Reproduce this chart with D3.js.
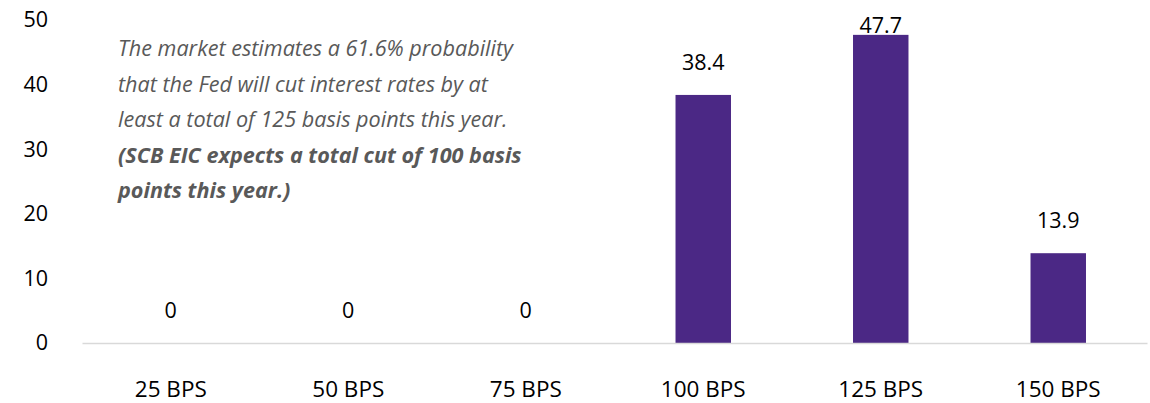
<!DOCTYPE html>
<html>
<head>
<meta charset="utf-8">
<script src="https://cdn.jsdelivr.net/npm/d3@7"></script>
<style>
  html, body { margin: 0; padding: 0; background: #ffffff; }
  svg { display: block; }
</style>
</head>
<body>
<div id="chart"></div>
<script>
// Probability (%) of total Fed rate cuts this year
const categories = ["25 BPS", "50 BPS", "75 BPS", "100 BPS", "125 BPS", "150 BPS"];
const probabilities = [0, 0, 0, 38.4, 47.7, 13.9];
const yTicks = [0, 10, 20, 30, 40, 50];
const noteLines = [
  { text: "The market estimates a 61.6% probability", bold: false },
  { text: "that the Fed will cut interest rates by at", bold: false },
  { text: "least a total of 125 basis points this year.", bold: false },
  { text: "(SCB EIC expects a total cut of 100 basis", bold: true },
  { text: "points this year.)", bold: true }
];

const width = 1150, height = 403;
const font = "'Open Sans', 'Noto Sans', sans-serif";

const svg = d3.select("#chart").append("svg")
  .attr("width", width)
  .attr("height", height);

const x = d3.scaleBand()
  .domain(categories)
  .range([82, 1147])
  .paddingInner(0.6875)
  .paddingOuter(0.34375);

const y = d3.scaleLinear()
  .domain([0, 50])
  .range([343, 20]);

// Y axis labels
const yAxis = d3.axisLeft(y).tickValues(yTicks).tickSize(0).tickPadding(0);
const gy = svg.append("g").attr("transform", "translate(48,0)").call(yAxis);
gy.select(".domain").remove();
gy.selectAll("text")
  .attr("font-family", font)
  .attr("font-size", 21.5)
  .attr("fill", "#000000");

// Bars
svg.append("g").selectAll("rect")
  .data(probabilities)
  .join("rect")
  .attr("x", (d, i) => x(categories[i]))
  .attr("y", d => y(d))
  .attr("width", x.bandwidth())
  .attr("height", d => y(0) - y(d))
  .attr("fill", "#4b2885");

// Baseline / category axis
const xAxis = d3.axisBottom(x).tickSize(0).tickPadding(0);
const gx = svg.append("g").attr("transform", `translate(0,${y(0)})`).call(xAxis);
gx.select(".domain").attr("stroke", "#d9d9d9").attr("stroke-width", 1.5);
gx.selectAll("text")
  .attr("dy", null)
  .attr("y", 54)
  .attr("font-family", font)
  .attr("font-size", 22.5)
  .attr("fill", "#000000");

// Value labels above bars, kept inside the top of the plot
svg.append("g").selectAll("text")
  .data(probabilities)
  .join("text")
  .attr("x", (d, i) => x(categories[i]) + x.bandwidth() / 2)
  .attr("y", d => Math.max(y(d) - 25, 33))
  .attr("text-anchor", "middle")
  .attr("font-family", font)
  .attr("font-size", 21.5)
  .attr("fill", "#000000")
  .text(d => d);

// Annotation
svg.append("g").selectAll("text")
  .data(noteLines)
  .join("text")
  .attr("x", 118)
  .attr("y", (d, i) => 56 + i * 35.5)
  .attr("font-family", font)
  .attr("font-size", 21.6)
  .attr("font-style", "italic")
  .attr("font-weight", d => d.bold ? 700 : 400)
  .attr("fill", "#595959")
  .text(d => d.text);
</script>
</body>
</html>
